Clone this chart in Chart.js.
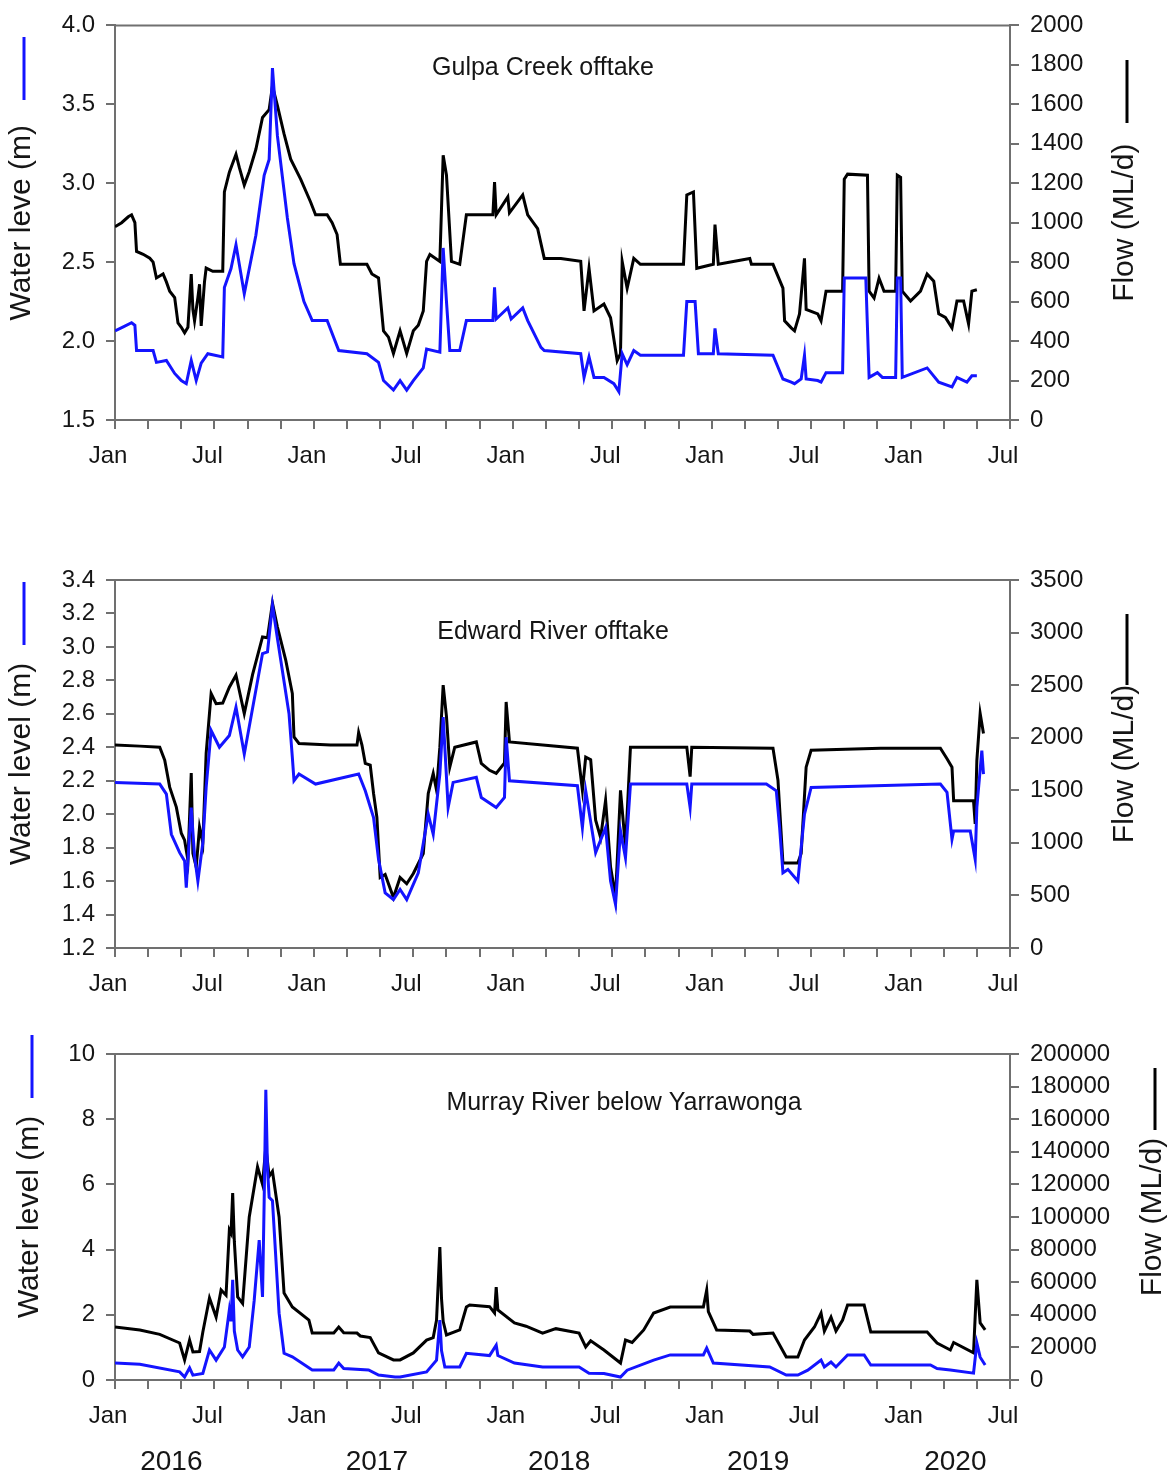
<!DOCTYPE html>
<html>
<head>
<meta charset="utf-8">
<script src="https://cdn.jsdelivr.net/npm/chart.js@4"></script>
<style>
body { margin: 0; background: #fff; width: 1172px; height: 1477px; overflow: hidden; }
.panel { position: absolute; left: 0; width: 1172px; }
</style>
</head>
<body>
<div class="panel" style="top:0;height:490px"><canvas id="gulpa"></canvas></div>
<div class="panel" style="top:490px;height:510px"><canvas id="edward"></canvas></div>
<div class="panel" style="top:1000px;height:477px"><canvas id="murray"></canvas></div>
<script>
// x values are months since Jan 2016

// Gulpa Creek offtake
var gulpaLevelT = [0,0.5,1.0,1.2,1.3,2.3,2.5,3.1,3.6,4.0,4.3,4.6,4.9,5.2,5.6,6.5,6.6,7.0,7.3,7.8,8.5,9.0,9.3,9.5,9.8,10.4,10.8,11.4,11.9,12.8,13.5,15.2,15.9,16.2,16.8,17.2,17.6,18.0,18.6,18.8,19.6,19.8,20.0,20.2,20.8,21.2,22.8,22.9,23.0,23.7,23.9,24.6,24.9,25.7,25.9,28.1,28.3,28.6,28.9,29.5,30.1,30.4,30.6,30.9,31.3,31.7,34.3,34.5,35.0,35.2,36.1,36.2,36.4,39.7,40.3,40.8,41.0,41.4,41.6,41.7,42.4,42.6,42.9,43.9,44.0,45.3,45.5,46.0,46.3,47.1,47.2,47.4,47.5,49.0,49.7,50.5,50.8,51.4,51.7,52.0];
var gulpaLevel = [2.065,2.09,2.116,2.10,1.94,1.94,1.865,1.877,1.795,1.75,1.73,1.877,1.75,1.86,1.92,1.90,2.34,2.46,2.61,2.30,2.67,3.05,3.15,3.73,3.30,2.78,2.49,2.25,2.13,2.13,1.94,1.92,1.865,1.75,1.69,1.75,1.69,1.75,1.83,1.95,1.93,2.59,2.25,1.94,1.94,2.13,2.13,2.34,2.14,2.21,2.14,2.21,2.13,1.96,1.94,1.92,1.77,1.90,1.77,1.77,1.73,1.68,1.92,1.85,1.94,1.91,1.91,2.25,2.25,1.92,1.92,2.08,1.92,1.91,1.76,1.74,1.73,1.76,1.91,1.76,1.75,1.74,1.80,1.80,2.40,2.40,1.77,1.80,1.77,1.77,2.40,2.40,1.77,1.83,1.74,1.71,1.77,1.74,1.78,1.78];
var gulpaFlowT = [0,0.4,0.8,1.0,1.2,1.3,1.7,2.1,2.3,2.5,2.9,3.1,3.3,3.6,3.8,4.0,4.2,4.4,4.6,4.7,4.8,5.0,5.1,5.2,5.4,5.5,5.9,6.5,6.6,6.9,7.3,7.5,7.8,8.1,8.5,8.9,9.3,9.5,9.8,10.2,10.6,11.2,11.8,12.1,12.8,13.1,13.4,13.6,15.2,15.5,15.9,16.2,16.5,16.8,17.2,17.6,18.0,18.3,18.6,18.8,19.0,19.6,19.8,20.0,20.3,20.8,21.2,22.8,22.9,23.0,23.7,23.8,24.6,24.9,25.5,25.9,26.9,28.1,28.3,28.6,28.9,29.5,29.9,30.3,30.5,30.6,30.9,31.3,31.7,34.3,34.5,34.9,35.1,36.1,36.2,36.4,38.3,38.4,39.7,40.3,40.4,40.8,41.0,41.3,41.6,41.7,42.4,42.6,42.9,43.9,44.0,44.2,45.4,45.5,45.8,46.1,46.4,47.1,47.2,47.4,47.5,48.0,48.6,49.0,49.4,49.7,50.1,50.5,50.8,51.2,51.5,51.7,52.0];
var gulpaFlow = [980,1000,1030,1040,1000,854,840,820,800,720,740,700,653,620,492,470,442,470,740,560,503,620,688,477,700,770,754,754,1156,1256,1347,1280,1191,1260,1372,1533,1573,1693,1593,1450,1322,1221,1105,1040,1040,1000,940,789,789,740,720,452,420,337,452,337,452,480,553,804,839,804,1342,1241,804,789,1040,1040,1206,1040,1131,1050,1141,1040,970,819,819,804,553,769,553,588,518,301,337,804,668,819,789,789,1141,1156,769,789,990,789,819,789,789,668,503,467,452,538,819,560,538,503,653,653,1221,1246,1241,653,618,719,653,653,1241,1230,653,603,653,740,703,538,520,467,603,603,487,653,660];

// Edward River offtake
var edwardLevelT = [0,2.7,3.1,3.4,3.9,4.2,4.3,4.6,4.8,5.0,5.3,5.5,5.8,6.3,6.9,7.3,7.8,8.9,9.2,9.5,9.8,10.5,10.7,10.8,11.1,12.1,14.7,15.1,15.6,15.9,16.3,16.8,17.2,17.6,18.3,18.9,19.2,19.6,19.8,20.1,20.4,21.8,22.1,23.0,23.5,23.6,23.8,27.9,28.2,28.4,29.0,29.6,29.9,30.2,30.5,30.8,31.1,34.5,34.7,34.8,39.3,39.9,40.1,40.3,40.6,41.2,41.6,42.0,49.8,50.2,50.5,50.6,51.6,51.9,52.0,52.3,52.4];
var edwardLevel = [2.19,2.18,2.12,1.88,1.77,1.72,1.56,2.04,1.75,1.60,1.83,2.16,2.50,2.40,2.47,2.64,2.36,2.96,2.97,3.25,3.05,2.60,2.34,2.20,2.24,2.18,2.24,2.14,1.98,1.73,1.53,1.49,1.55,1.49,1.65,2.00,1.88,2.24,2.58,2.04,2.19,2.22,2.10,2.04,2.10,2.46,2.20,2.17,1.92,2.14,1.77,1.92,1.60,1.46,1.90,1.74,2.18,2.18,2.04,2.18,2.18,2.14,1.92,1.65,1.67,1.60,2.00,2.16,2.18,2.13,1.85,1.90,1.90,1.73,2.04,2.38,2.24];
var edwardFlowT = [0,1.5,2.7,3.0,3.3,3.7,4.0,4.2,4.4,4.6,4.7,4.9,5.1,5.3,5.5,5.8,6.1,6.5,6.9,7.3,7.8,8.3,8.9,9.2,9.5,9.8,10.3,10.7,10.8,11.1,13.0,14.6,14.7,14.9,15.1,15.4,15.6,15.8,16.0,16.3,16.8,17.2,17.6,18.0,18.6,18.9,19.2,19.4,19.6,19.8,20.0,20.2,20.5,21.8,22.1,22.6,23.0,23.5,23.6,23.8,27.9,28.2,28.4,28.7,29.0,29.3,29.6,29.9,30.2,30.5,30.8,31.1,34.5,34.7,34.8,39.7,40.0,40.3,41.2,41.4,41.7,42.0,46.2,49.8,50.2,50.5,50.6,51.8,51.9,52.0,52.2,52.4];
var edwardFlow = [1930,1920,1910,1787,1530,1340,1092,1025,835,1664,900,769,1150,1000,1851,2420,2324,2330,2480,2595,2229,2600,2958,2950,3280,3053,2739,2420,2008,1945,1930,1930,2050,1930,1756,1740,1470,1245,671,700,480,671,611,709,899,1470,1660,1500,1910,2500,2200,1720,1910,1960,1756,1690,1660,1760,2340,1960,1900,1500,1815,1790,1215,1050,1405,770,484,1500,960,1910,1910,1630,1910,1900,1596,808,808,900,1720,1880,1900,1900,1800,1720,1400,1400,1180,1785,2230,2040];

// Murray River below Yarrawonga
var murrayLevelT = [0,1.5,3.9,4.2,4.5,4.7,5.3,5.7,6.1,6.6,6.9,7.0,7.1,7.2,7.4,7.7,8.1,8.4,8.7,8.9,9.0,9.1,9.2,9.3,9.5,9.9,10.2,10.7,11.9,13.2,13.5,13.8,15.3,15.9,16.9,17.2,18.8,19.4,19.6,19.7,19.9,20.8,21.2,22.6,23.0,23.1,24.1,25.8,28.0,28.6,29.5,30.5,30.9,32.5,33.5,35.5,35.7,36.1,39.5,40.5,41.2,41.8,42.6,42.8,43.2,43.5,44.2,45.2,45.6,49.2,49.6,50.4,51.8,52.0,52.2,52.5];
var murrayLevel = [0.52,0.48,0.25,0.09,0.37,0.15,0.20,0.92,0.61,1.01,2.15,1.80,3.07,1.50,0.92,0.71,1.01,2.45,4.29,2.55,5.5,8.9,6.5,5.6,5.5,2.05,0.82,0.71,0.31,0.31,0.52,0.35,0.31,0.15,0.09,0.09,0.25,0.61,1.84,0.90,0.40,0.40,0.82,0.75,1.07,0.75,0.52,0.40,0.40,0.21,0.20,0.09,0.30,0.61,0.77,0.77,0.98,0.52,0.40,0.15,0.15,0.30,0.61,0.40,0.55,0.40,0.77,0.77,0.46,0.46,0.35,0.31,0.21,1.13,0.70,0.46];
var murrayFlowT = [0,1.5,2.7,3.9,4.2,4.5,4.7,5.1,5.3,5.7,6.1,6.4,6.7,6.9,7.0,7.1,7.2,7.4,7.7,8.1,8.6,8.9,9.1,9.3,9.5,9.9,10.2,10.7,11.7,11.9,13.2,13.5,13.8,14.6,14.8,15.4,15.9,16.8,17.2,18.0,18.8,19.2,19.4,19.6,19.7,19.8,20.0,20.8,21.2,21.4,22.6,22.9,23.0,23.1,24.1,24.8,25.8,26.6,28.0,28.4,28.7,29.5,30.5,30.8,31.2,31.9,32.5,33.5,35.5,35.7,35.8,36.3,38.3,38.5,39.7,40.5,41.2,41.6,42.2,42.6,42.8,43.2,43.5,43.9,44.2,45.2,45.6,49.0,49.6,50.4,50.6,51.8,52.0,52.2,52.5];
var murrayFlow = [32500,30700,28000,22700,12300,24500,17200,17500,29500,50300,38600,55200,52000,92000,90000,114700,85000,51000,47000,100000,130700,120000,143000,125000,128000,100000,53400,44800,36800,28800,28800,32500,29000,28800,27000,26000,16600,12300,12300,16600,24500,26000,36800,81600,50000,36000,27600,30700,44800,46000,45000,41100,57000,43000,35000,33000,28800,31500,28800,20300,24000,18400,10400,24500,23000,30700,41100,44800,44800,55200,42000,30700,30000,28000,28800,14100,14100,24500,32500,41100,30000,38600,30000,36800,46000,46000,29500,29500,22700,18400,23000,16600,61400,35000,30700];

var yearLabels = ['2016', '2017', '2018', '2019', '2020'];
var yearPos = [3.4, 15.8, 26.8, 38.8, 50.7];

var axisCol = '#707070';
var textCol = '#151515';
var fontFam = "'Liberation Sans', Arial, sans-serif";

function pts(t, v) {
  var out = [];
  for (var i = 0; i < t.length; i++) out.push({ x: t[i], y: v[i] });
  return out;
}

// draws the frame top, inset title, rotated axis titles with line keys, year labels
var decor = {
  id: 'decor',
  afterDraw: function(chart, args, o) {
    var ctx = chart.ctx, a = chart.chartArea;
    ctx.save();
    ctx.strokeStyle = axisCol;
    ctx.lineWidth = 2;
    ctx.beginPath();
    ctx.moveTo(a.left - 1, a.top);
    ctx.lineTo(a.right + 1, a.top);
    ctx.stroke();

    ctx.fillStyle = textCol;
    ctx.font = '25px ' + fontFam;
    ctx.textAlign = 'center';
    ctx.textBaseline = 'middle';
    ctx.fillText(o.inset, o.insetX, o.insetY);

    var cy = (a.top + a.bottom) / 2;
    ctx.font = '30px ' + fontFam;
    [[o.leftTitle, o.leftX], [o.rightTitle, o.rightX]].forEach(function(t) {
      ctx.save();
      ctx.translate(t[1], cy);
      ctx.rotate(-Math.PI / 2);
      ctx.fillText(t[0], 0, 0);
      ctx.restore();
    });

    ctx.lineWidth = 3;
    ctx.strokeStyle = '#1414ff';
    ctx.beginPath();
    ctx.moveTo(o.leftX + 2, o.leftKey[0]);
    ctx.lineTo(o.leftX + 2, o.leftKey[1]);
    ctx.stroke();
    ctx.strokeStyle = '#000';
    ctx.beginPath();
    ctx.moveTo(o.rightX + 2, o.rightKey[0]);
    ctx.lineTo(o.rightX + 2, o.rightKey[1]);
    ctx.stroke();

    if (o.years) {
      ctx.font = '28px ' + fontFam;
      var xs = chart.scales.x;
      for (var i = 0; i < yearLabels.length; i++) {
        ctx.fillText(yearLabels[i], xs.getPixelForValue(yearPos[i]), o.yearY);
      }
    }
    ctx.restore();
  }
};

function makePanel(id, p) {
  var ctx = document.getElementById(id).getContext('2d');
  return new Chart(ctx, {
    type: 'line',
    data: {
      datasets: [
        {
          label: 'Water level',
          data: pts(p.levelT, p.level),
          yAxisID: 'y',
          borderColor: '#1414ff',
          borderWidth: 3,
          pointRadius: 0,
          fill: false,
          tension: 0,
        },
        {
          label: 'Flow',
          data: pts(p.flowT, p.flow),
          yAxisID: 'y1',
          borderColor: '#000',
          borderWidth: 3,
          pointRadius: 0,
          fill: false,
          tension: 0,
        },
      ],
    },
    options: {
      responsive: true,
      maintainAspectRatio: false,
      animation: false,
      layout: { padding: { top: p.padTop, left: 0, right: 0, bottom: 0 } },
      plugins: {
        legend: { display: false },
        tooltip: { enabled: false },
        decor: p.decor,
      },
      scales: {
        x: {
          type: 'linear',
          min: 0,
          max: 54,
          afterFit: function(s) { s.height = p.xHeight; },
          border: { color: axisCol, width: 2 },
          grid: { drawOnChartArea: false, tickLength: 9, color: axisCol, lineWidth: 2 },
          ticks: {
            stepSize: 2,
            autoSkip: false,
            maxRotation: 0,
            padding: 13,
            labelOffset: -7,
            color: textCol,
            font: { family: fontFam, size: 24 },
            callback: function(v) { return v % 12 === 0 ? 'Jan' : (v % 12 === 6 ? 'Jul' : ''); },
          },
        },
        y: {
          position: 'left',
          min: p.yMin,
          max: p.yMax,
          afterFit: function(s) { s.width = 115; },
          border: { color: axisCol, width: 2 },
          grid: { drawOnChartArea: false, tickLength: 9, color: axisCol, lineWidth: 2 },
          ticks: {
            stepSize: p.yStep,
            padding: 11,
            color: textCol,
            font: { family: fontFam, size: 24 },
            callback: function(v) { return v.toFixed(p.yDec); },
          },
        },
        y1: {
          position: 'right',
          min: 0,
          max: p.fMax,
          afterFit: function(s) { s.width = 162; },
          border: { color: axisCol, width: 2 },
          grid: { drawOnChartArea: false, tickLength: 9, color: axisCol, lineWidth: 2 },
          ticks: {
            stepSize: p.fStep,
            padding: 11,
            color: textCol,
            font: { family: fontFam, size: 24 },
            callback: function(v) { return String(v); },
          },
        },
      },
    },
    plugins: [decor],
  });
}

makePanel('gulpa', {
  levelT: gulpaLevelT, level: gulpaLevel, flowT: gulpaFlowT, flow: gulpaFlow,
  padTop: 22, xHeight: 70,
  yMin: 1.5, yMax: 4.0, yStep: 0.5, yDec: 1, fMax: 2000, fStep: 200,
  decor: {
    inset: 'Gulpa Creek offtake', insetX: 543, insetY: 68,
    leftTitle: 'Water leve (m)', leftX: 22, leftKey: [37, 100],
    rightTitle: 'Flow (ML/d)', rightX: 1125, rightKey: [60, 123],
  },
});

makePanel('edward', {
  levelT: edwardLevelT, level: edwardLevel, flowT: edwardFlowT, flow: edwardFlow,
  padTop: 90, xHeight: 52,
  yMin: 1.2, yMax: 3.4, yStep: 0.2, yDec: 1, fMax: 3500, fStep: 500,
  decor: {
    inset: 'Edward River offtake', insetX: 553, insetY: 142,
    leftTitle: 'Water level (m)', leftX: 22, leftKey: [92, 155],
    rightTitle: 'Flow (ML/d)', rightX: 1125, rightKey: [124, 195],
  },
});

makePanel('murray', {
  levelT: murrayLevelT, level: murrayLevel, flowT: murrayFlowT, flow: murrayFlow,
  padTop: 54, xHeight: 97,
  yMin: 0, yMax: 10, yStep: 2, yDec: 0, fMax: 200000, fStep: 20000,
  decor: {
    inset: 'Murray River below Yarrawonga', insetX: 624, insetY: 103,
    leftTitle: 'Water level (m)', leftX: 30, leftKey: [35, 98],
    rightTitle: 'Flow (ML/d)', rightX: 1153, rightKey: [68, 130],
    years: true, yearY: 462,
  },
});
</script>
</body>
</html>
